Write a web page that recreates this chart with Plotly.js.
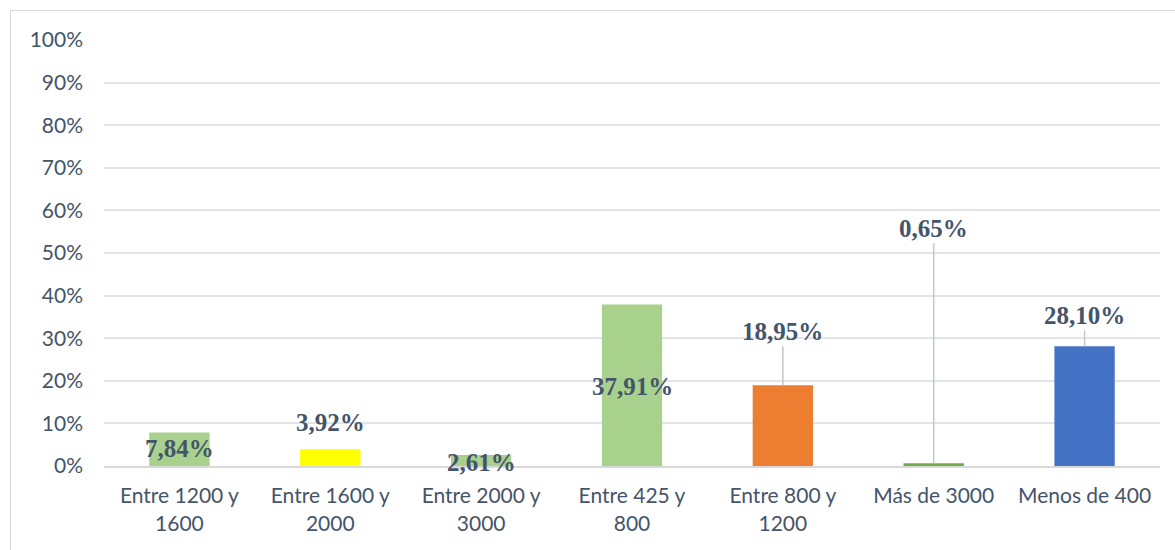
<!DOCTYPE html>
<html>
<head>
<meta charset="utf-8">
<script src="https://cdn.plot.ly/plotly-3.0.1.min.js"></script>
<style>
    body { margin: 0; background: #fff; overflow: hidden; }
    #chart { width: 1175px; height: 550px; }
    #frame { position: absolute; left: 10px; top: 10px; width: 1175px; height: 560px;
             border: 1px solid #D9D9D9; pointer-events: none; }
</style>
</head>
<body>
<div id="chart"></div>
<div id="frame"></div>
<script>
const CATEGORIES = ["Entre 1200 y<br>1600", "Entre 1600 y<br>2000", "Entre 2000 y<br>3000",
                    "Entre 425 y<br>800", "Entre 800 y<br>1200", "Más de 3000", "Menos de 400"];
const PERCENTS   = [7.84, 3.92, 2.61, 37.91, 18.95, 0.65, 28.10];
const COLORS     = ["#A9D18E", "#FFFF00", "#A9D18E", "#A9D18E", "#ED7D31", "#70AD47", "#4472C4"];

// label placement (pixels): leader offset for arrows, shift otherwise
const LABEL_ARROW = [null, null, null, null, -54, -235, -31];
const LABEL_SHIFT = [-16, 27, -8, -82, 0, 0, 0];

const DIV = document.querySelector("#chart");
const LABEL_FONT = { family: "Liberation Serif", size: 25, color: "#44546A", weight: "bold" };

let bars = {
    type: "bar",
    x: CATEGORIES,
    y: PERCENTS,
    marker: { color: COLORS },
    hoverinfo: "skip"
};

let annotations = PERCENTS.map((v, i) => {
    let a = {
        x: CATEGORIES[i],
        y: v,
        xref: "x",
        yref: "y",
        text: "<b>" + v.toFixed(2).replace(".", ",") + "%</b>",
        font: LABEL_FONT
    };
    if (LABEL_ARROW[i] !== null) {
        a.showarrow = true;
        a.arrowhead = 0;
        a.arrowwidth = 1.5;
        a.arrowcolor = "#BFC6D2";
        a.standoff = 0;
        a.ax = 0;
        a.ay = LABEL_ARROW[i];
    } else {
        a.showarrow = false;
        a.yshift = LABEL_SHIFT[i];
    }
    return a;
});

let layout = {
    width: 1175,
    height: 550,
    margin: { l: 104, r: 15, t: 40, b: 84 },
    paper_bgcolor: "#fff",
    plot_bgcolor: "#fff",
    showlegend: false,
    bargap: 0.6,
    font: { family: "Lato", size: 21, color: "#44546A" },
    xaxis: {
        type: "category",
        showgrid: false,
        showline: true,
        linecolor: "#D9D9D9",
        linewidth: 2,
        ticks: "",
        ticklabelstandoff: 10,
        tickfont: { family: "Lato", size: 21, color: "#44546A" }
    },
    yaxis: {
        range: [0, 100],
        dtick: 10,
        ticksuffix: "%",
        showgrid: true,
        gridcolor: "#E1E4E9",
        gridwidth: 2,
        zeroline: false,
        ticks: "",
        ticklabelstandoff: 20,
        tickfont: { family: "Lato", size: 21, color: "#44546A" }
    },
    annotations: annotations
};

Plotly.newPlot(DIV, [bars], layout, { displayModeBar: false, staticPlot: true });
</script>
</body>
</html>
